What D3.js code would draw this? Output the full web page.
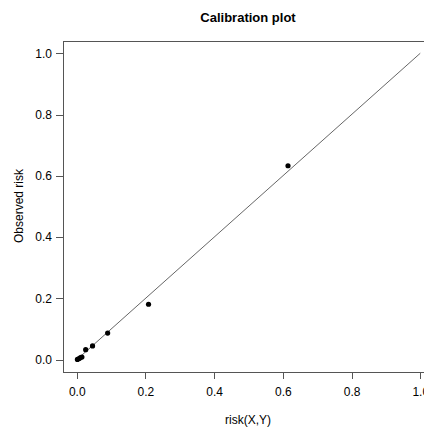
<!DOCTYPE html>
<html>
<head>
<meta charset="utf-8">
<script src="https://cdn.jsdelivr.net/npm/d3@7"></script>
<style>
  body { margin: 0; background: #fff; }
  text { font-family: "Liberation Sans", Arial, sans-serif; }
</style>
</head>
<body>
<svg id="chart" width="424" height="427"></svg>
<script>
// predicted vs observed risk
var predicted = [0.002, 0.007, 0.011, 0.015, 0.026, 0.046, 0.090, 0.209, 0.615]
var observed = [0.001, 0.004, 0.007, 0.009, 0.033, 0.045, 0.087, 0.181, 0.633]
var xTicks = [0, 0.2, 0.4, 0.6, 0.8, 1.0]
var yTicks = [0, 0.2, 0.4, 0.6, 0.8, 1.0]
var refLine = [[0, 0], [1, 1]]

var svg = d3.select("#chart")

// R pads the range by 4% on each side; the right edge falls off the page
var x = d3.scaleLinear().domain([-0.04, 1.04]).range([63, 434])
var y = d3.scaleLinear().domain([-0.04, 1.04]).range([372, 41])

var axisColor = "#555"

// box (right side is cropped)
svg.append("rect")
  .attr("x", x(-0.04))
  .attr("y", y(1.04))
  .attr("width", x(1.04) - x(-0.04))
  .attr("height", y(-0.04) - y(1.04))
  .attr("fill", "none")
  .attr("stroke", axisColor)
  .attr("stroke-width", 1)
  .attr("shape-rendering", "crispEdges")

var xAxis = svg.append("g")
  .attr("transform", "translate(0," + y(-0.04) + ")")
  .call(d3.axisBottom(x).tickValues(xTicks).tickFormat(d3.format(".1f")).tickSize(7).tickPadding(8))
xAxis.select(".domain").remove()

var yAxis = svg.append("g")
  .attr("transform", "translate(" + x(-0.04) + ",0)")
  .call(d3.axisLeft(y).tickValues(yTicks).tickFormat(d3.format(".1f")).tickSize(7).tickPadding(4))
yAxis.select(".domain").remove()

svg.selectAll(".tick line").attr("stroke", axisColor).attr("shape-rendering", "crispEdges")
svg.selectAll(".tick text")
  .attr("fill", "#000")
  .style("font-size", "12px")
  .style("font-family", "'Liberation Sans', Arial, sans-serif")

// diagonal reference
var line = d3.line()
  .x(function (d) { return x(d[0]) })
  .y(function (d) { return y(d[1]) })
svg.append("path")
  .datum(refLine)
  .attr("d", line)
  .attr("fill", "none")
  .attr("stroke", "#555")
  .attr("stroke-width", 0.9)

svg.append("g")
  .selectAll("circle")
  .data(predicted)
  .enter()
  .append("circle")
  .attr("cx", function (d) { return x(d) })
  .attr("cy", function (d, i) { return y(observed[i]) })
  .attr("r", 2.6)
  .attr("fill", "#000")

svg.append("text")
  .attr("x", 248)
  .attr("y", 22)
  .attr("text-anchor", "middle")
  .style("font-size", "13px")
  .style("font-weight", "bold")
  .text("Calibration plot")

svg.append("text")
  .attr("x", 248)
  .attr("y", 424)
  .attr("text-anchor", "middle")
  .style("font-size", "12px")
  .text("risk(X,Y)")

svg.append("text")
  .attr("transform", "translate(23," + 206 + ") rotate(-90)")
  .attr("text-anchor", "middle")
  .style("font-size", "12px")
  .text("Observed risk")
</script>
</body>
</html>
